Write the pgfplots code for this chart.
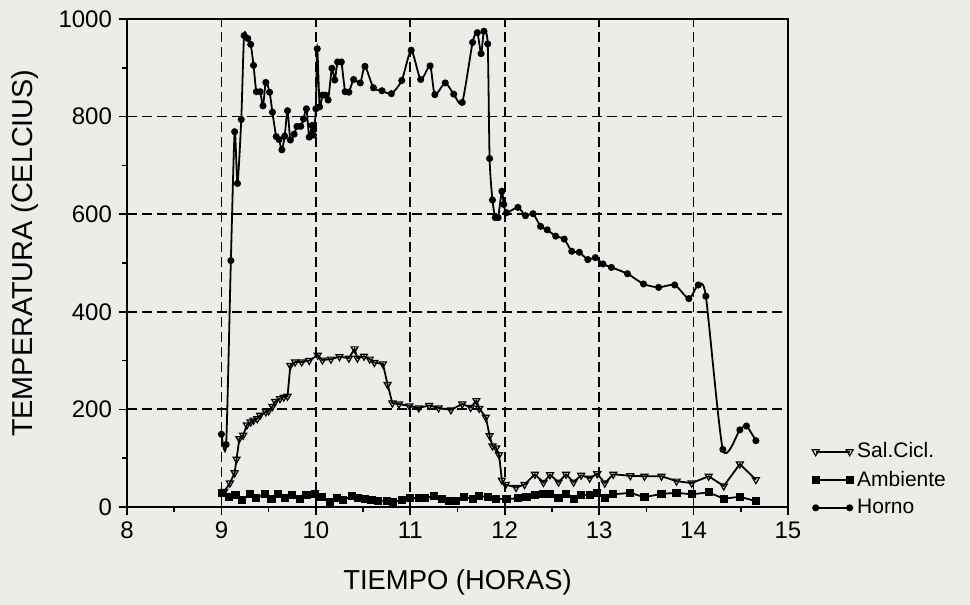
\documentclass[border=0pt]{standalone}
\usepackage{fontspec}
\setmainfont{Liberation Sans}
\usepackage{pgfplots}
\usepackage{pgfplotstable}
\pgfplotsset{compat=1.18}
\definecolor{paper}{RGB}{236,236,233}

% Horno (circulos)
\pgfplotstableread{
h t
9.00 149
9.05 128
9.10 505
9.14 769
9.17 663
9.21 794
9.24 966
9.28 960
9.31 948
9.34 905
9.37 851
9.41 851
9.44 822
9.47 870
9.51 850
9.54 809
9.58 759
9.61 753
9.64 732
9.67 760
9.70 812
9.73 752
9.77 764
9.80 780
9.84 780
9.87 795
9.90 816
9.93 758
9.96 782
9.975 762
10.00 816
10.015 939
10.04 820
10.07 844
10.10 844
10.13 834
10.17 899
10.20 875
10.23 912
10.27 912
10.31 851
10.35 850
10.40 876
10.47 869
10.52 903
10.61 859
10.70 853
10.80 847
10.91 874
11.01 936
11.11 876
11.21 904
11.26 845
11.37 869
11.46 846
11.55 829
11.66 952
11.71 972
11.75 929
11.78 975
11.82 949
11.84 714
11.87 629
11.90 593
11.93 593
11.97 647
11.99 620
12.02 603
12.14 614
12.22 597
12.30 601
12.38 575
12.45 568
12.54 555
12.63 549
12.71 524
12.79 522
12.88 507
12.96 511
13.04 498
13.13 491
13.30 478
13.47 457
13.63 450
13.80 455
13.95 427
14.05 455
14.13 432
14.31 118
14.49 158
14.56 166
14.66 136
}\horno

% Salida ciclon (triangulos)
\pgfplotstableread{
h t
9.03 32
9.09 49
9.14 70
9.16 98
9.19 140
9.23 147
9.27 168
9.31 174
9.34 178
9.38 181
9.41 188
9.47 195
9.50 197
9.54 206
9.57 216
9.62 222
9.66 225
9.70 227
9.73 290
9.78 297
9.85 297
9.93 300
10.02 311
10.07 301
10.16 303
10.25 308
10.35 305
10.41 324
10.44 305
10.51 309
10.57 303
10.62 296
10.71 293
10.76 251
10.81 213
10.88 211
10.99 207
11.09 203
11.20 208
11.30 203
11.43 199
11.55 211
11.64 204
11.70 218
11.73 202
11.80 184
11.84 146
11.87 125
11.91 121
11.94 107
11.97 55
12.01 46
12.12 40
12.21 46
12.32 67
12.41 50
12.48 66
12.57 51
12.65 67
12.73 51
12.81 65
12.90 59
12.98 68
13.06 49
13.15 67
13.33 64
13.48 63
13.66 63
13.82 53
13.98 49
14.16 63
14.32 43
14.49 88
14.66 56
}\salcicl

% Ambiente (cuadrados)
\pgfplotstableread{
h t
9.01 28
9.08 20
9.15 24
9.22 15
9.30 27
9.37 19
9.46 26
9.53 16
9.60 27
9.67 19
9.75 24
9.83 17
9.90 24
9.99 27
10.06 21
10.15 11
10.22 18
10.29 15
10.38 22
10.45 19
10.52 17
10.59 14
10.66 13
10.75 13
10.82 11
10.91 14
11.00 19
11.09 18
11.16 19
11.25 22
11.34 17
11.41 13
11.48 12
11.57 21
11.66 16
11.73 23
11.82 20
11.91 17
12.02 16
12.14 18
12.23 21
12.32 25
12.41 26
12.48 27
12.57 18
12.65 27
12.73 17
12.81 25
12.90 24
12.98 29
13.06 18
13.15 26
13.33 29
13.48 20
13.66 27
13.82 29
13.98 26
14.16 30
14.32 17
14.49 21
14.66 12
}\ambiente

\begin{document}
\begin{tikzpicture}
\fill[paper] (-63.5pt,-49pt) rectangle (421.5pt,253.5pt);
\path[use as bounding box] (-63.5pt,-49pt) rectangle (421.5pt,253.5pt);
\begin{axis}[
  at={(0pt,0pt)}, anchor=south west,
  scale only axis, width=330.5pt, height=244pt,
  xmin=8, xmax=15, ymin=0, ymax=1000,
  xtick={8,...,15}, ytick={0,200,...,1000},
  minor x tick num=1, minor y tick num=1,
  tick pos=left, tick align=outside,
  major tick length=4pt, minor tick length=2.5pt,
  tick style={black, line width=0.8pt},
  grid=major,
  major grid style={black, line width=0.9pt, dash pattern=on 5pt off 2.5pt},
  axis line style={line width=1pt},
  /pgf/number format/assume math mode=true,
  /pgf/number format/1000 sep={},
  tick label style={font=\fontsize{12}{14}\selectfont},
  xlabel={TIEMPO (HORAS)},
  ylabel={TEMPERATURA (CELCIUS)},
  xlabel style={at={(axis description cs:0.5,-0.154)}, anchor=center,
    font=\fontsize{13.7}{16}\selectfont},
  ylabel style={at={(axis description cs:-0.154,0.52)}, anchor=center,
    font=\fontsize{14.4}{16}\selectfont},
  legend style={draw=none, fill=none, at={(rel axis cs:1.027,0.149)}, anchor=north west,
    font=\fontsize{10.5}{12}\selectfont, row sep=1pt},
  legend cell align=left,
  legend image code/.code={
    \draw[#1] (0pt,0pt) -- (17pt,0pt);
    \draw[#1] plot[only marks] coordinates {(0pt,0pt) (17pt,0pt)};
  },
]
\addplot[black, line width=0.9pt, mark=triangle, mark size=2pt,
  mark options={rotate=180, fill=white, solid, line width=0.6pt}] table[x=h, y=t] {\salcicl};
\addlegendentry{Sal.Cicl.}
\addplot[black, line width=0.9pt, mark=square*, mark size=1.6pt] table[x=h, y=t] {\ambiente};
\addlegendentry{Ambiente}
\addplot[black, line width=0.9pt, smooth, tension=0.4, mark=*, mark size=1.3pt,
  mark options={fill=black}] table[x=h, y=t] {\horno};
\addlegendentry{Horno}
\end{axis}
\end{tikzpicture}
\end{document}
